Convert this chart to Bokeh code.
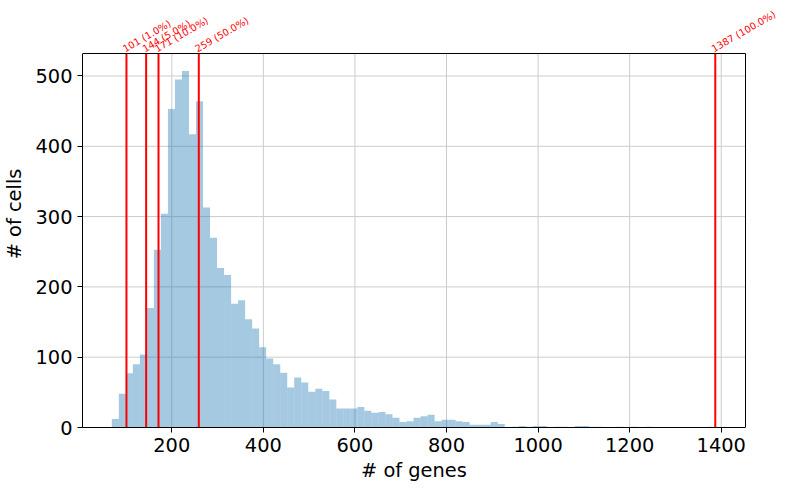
import math
from bokeh.plotting import figure
from bokeh.models import Range1d, FixedTicker, Label, Title
from bokeh.embed import file_html
from bokeh.resources import INLINE

# histogram of genes per cell (86 equal bins between min and max)
bin_lo = 69
bin_hi = 1387
counts = [12, 48, 77, 90, 104, 170, 253, 304, 453, 495,
          507, 417, 464, 313, 270, 227, 217, 176, 181, 154,
          141, 114, 98, 90, 78, 57, 71, 64, 51, 55,
          52, 40, 27, 27, 27, 29, 24, 21, 22, 19,
          14, 8, 9, 14, 16, 18, 9, 11, 11, 9,
          8, 4, 4, 4, 8, 5, 0, 1, 2, 1,
          2, 2, 0, 1, 1, 0, 2, 2, 1, 1,
          0, 0, 1, 0, 1, 0, 1, 0, 0, 0,
          0, 0, 0, 0, 0, 1]

thresholds = [101, 144, 171, 259, 1387]
percentiles = [1.0, 5.0, 10.0, 50.0, 100.0]

x_ticks = [200, 400, 600, 800, 1000, 1200, 1400]
y_ticks = [0, 100, 200, 300, 400, 500]

x_label = "# of genes"
y_label = "# of cells"

# axes box limits
x_lo, x_hi = 5, 1453
y_lo, y_hi = 0, 532

# layout (pixels)
W, H = 788, 490
left_b, bottom_b = 82, 63
box_w, box_h = 663, 374           # axes box size
frame_w, frame_h = W - left_b, H - bottom_b   # frame reaches top/right edge so labels show
x_view_hi = x_lo + (x_hi - x_lo) * frame_w / box_w
y_view_hi = y_lo + (y_hi - y_lo) * frame_h / box_h
xlabel_w = 106                    # approx. rendered width of the x label

n = len(counts)
w = (bin_hi - bin_lo) / n
lefts = [bin_lo + i * w for i in range(n)]
rights = [bin_lo + (i + 1) * w for i in range(n)]

FONT = "DejaVu Sans"
GRID = "#cccccc"

p = figure(width=W, height=H, output_backend="svg", toolbar_location=None,
           x_range=Range1d(x_lo, x_view_hi), y_range=Range1d(y_lo, y_view_hi),
           min_border_left=left_b, min_border_right=0, min_border_top=0,
           min_border_bottom=bottom_b)
p.xgrid.visible = False
p.ygrid.visible = False
p.outline_line_color = None

# grid lines limited to the axes box
gx = x_ticks
p.segment(x0=gx, y0=[y_lo] * len(gx), x1=gx, y1=[y_hi] * len(gx),
          line_color=GRID, line_width=1)
gy = [t for t in y_ticks if t > y_lo]
p.segment(x0=[x_lo] * len(gy), y0=gy, x1=[x_hi] * len(gy), y1=gy,
          line_color=GRID, line_width=1)

p.quad(left=lefts, right=rights, bottom=0, top=counts,
       fill_color="#1f77b4", fill_alpha=0.4, line_color=None)

p.segment(x0=thresholds, y0=[y_lo] * len(thresholds), x1=thresholds,
          y1=[y_hi] * len(thresholds), line_color="red", line_width=2)

# top and right spines
p.segment(x0=[x_lo, x_hi], y0=[y_hi, y_lo], x1=[x_hi, x_hi], y1=[y_hi, y_hi],
          line_color="black", line_width=1)

for t, pc in zip(thresholds, percentiles):
    p.add_layout(Label(x=t, y=y_hi, text=f"{t} ({pc}%)", angle=math.pi / 6,
                       text_color="red", text_font_size="9.7px",
                       text_font=FONT, text_align="left",
                       text_baseline="alphabetic", x_offset=-3, y_offset=4))

for ax, ticks, bnds in ((p.xaxis[0], x_ticks, (x_lo, x_hi)),
                        (p.yaxis[0], y_ticks, (y_lo, y_hi))):
    ax.ticker = FixedTicker(ticks=ticks)
    ax.bounds = bnds
    ax.axis_label_text_font = FONT
    ax.axis_label_text_font_size = "19.4px"
    ax.axis_label_text_font_style = "normal"
    ax.axis_label_text_color = "black"
    ax.major_label_text_font = FONT
    ax.major_label_text_font_size = "19.4px"
    ax.major_label_text_color = "black"
    ax.axis_line_color = "black"
    ax.major_tick_line_color = "black"
    ax.minor_tick_line_color = None
    ax.major_tick_in = 0
    ax.major_tick_out = 5
    ax.major_label_standoff = 5
    ax.axis_label_standoff = 6

p.yaxis[0].axis_label = y_label

# x label centred under the axes box (not under the wider frame)
p.add_layout(Title(text=x_label, align="left",
                   offset=(box_w - xlabel_w) / 2,
                   text_font=FONT, text_font_size="19.4px",
                   text_font_style="normal", text_color="black",
                   standoff=4), "below")

p.background_fill_color = "white"
p.border_fill_color = "white"

open("out.html", "w").write(file_html(p, INLINE))
